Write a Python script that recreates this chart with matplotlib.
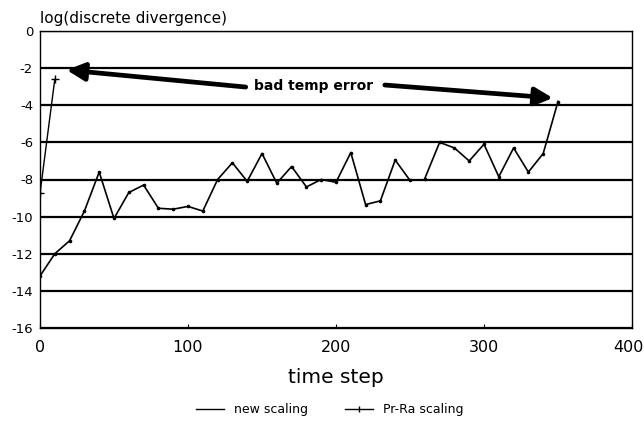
import matplotlib
matplotlib.use("Agg")
import matplotlib.pyplot as plt
import matplotlib.transforms as mtransforms
import numpy as np
from matplotlib.lines import Line2D

# --- data ---
new_steps = [0, 10, 20, 30, 40, 50, 60, 70, 80, 90, 100, 110, 120, 130, 140, 150,
             160, 170, 180, 190, 200, 210, 220, 230, 240, 250, np.nan, 260, 270,
             280, 290, 300, 310, 320, 330, 340, 350]
new_vals = [-13.2, -12.0, -11.3, -9.7, -7.6, -10.1, -8.7, -8.3, -9.55, -9.6, -9.45,
            -9.7, -8.0, -7.1, -8.1, -6.6, -8.2, -7.3, -8.4, -8.0, -8.15, -6.55,
            -9.35, -9.15, -6.95, -8.05, np.nan, -7.95, -6.0, -6.3, -7.0, -6.1,
            -7.85, -6.3, -7.6, -6.6, -3.8]
prra_steps = [0, 10]
prra_vals = [-8.75, -2.6]
yticks = [0, -2, -4, -6, -8, -10, -12, -14, -16]
xticks = [0, 100, 200, 300, 400]

W, H = 644, 422
fig = plt.figure(figsize=(W / 100, H / 100), dpi=100)
ax = fig.add_axes([40 / W, 1 - 328 / H, (632 - 40) / W, (328 - 31) / H])

ax.set_xlim(0, 400)
ax.set_ylim(-16, 0)

for y in yticks:
    ax.axhline(y, color="black", lw=1.6, zorder=1)

ax.plot(new_steps, new_vals, color="black", lw=1.2, marker="o", ms=1.6, zorder=3)
ax.plot(prra_steps, prra_vals, color="black", lw=1.0, marker="+", ms=6, mew=1.0, zorder=3)

ax.set_yticks(yticks)
ax.set_yticklabels([str(v) for v in yticks], fontsize=9.5)
ax.set_xticks(xticks)
ax.set_xticklabels([str(v) for v in xticks], fontsize=11.5)
ax.tick_params(axis="y", length=0, pad=5)
ax.tick_params(axis="x", direction="in", length=3, pad=9)
for s in ax.spines.values():
    s.set_linewidth(1.0)
    s.set_color("black")

# nudge the last x tick label slightly inwards so it stays on the canvas
lbl = ax.get_xticklabels()[-1]
lbl.set_transform(lbl.get_transform() + mtransforms.ScaledTranslation(-4 / 100, 0, fig.dpi_scale_trans))

ax.set_xlabel("time step", fontsize=14.5, labelpad=9)
fig.text(40.5 / W, 1 - 18 / H, "log(discrete divergence)", fontsize=11,
         ha="left", va="center")

# annotation
ax.text(185, -2.96, "bad temp error", fontsize=10, fontweight="bold",
        ha="center", va="center")
arrow_kw = dict(arrowstyle="-|>,head_length=0.9,head_width=0.45", lw=3.4,
                color="black", shrinkA=0, shrinkB=0, mutation_scale=12)
ax.annotate("", xy=(18, -2.1), xytext=(139, -3.02), arrowprops=arrow_kw)
ax.annotate("", xy=(346.5, -3.61), xytext=(233, -2.91), arrowprops=arrow_kw)

handles = [Line2D([], [], color="black", lw=1.0),
           Line2D([], [], color="black", lw=1.0, marker="|", ms=4, markevery=[1])]
handles[1].set_data([0, 0.5, 1], [0, 0, 0])
fig.legend(handles, ["new scaling", "Pr-Ra scaling"], loc="center",
           bbox_to_anchor=(0.512, 1 - 410 / H), ncol=2, frameon=False,
           fontsize=9, handlelength=2.2, columnspacing=3.0)

fig.savefig("out.png", dpi=100)
